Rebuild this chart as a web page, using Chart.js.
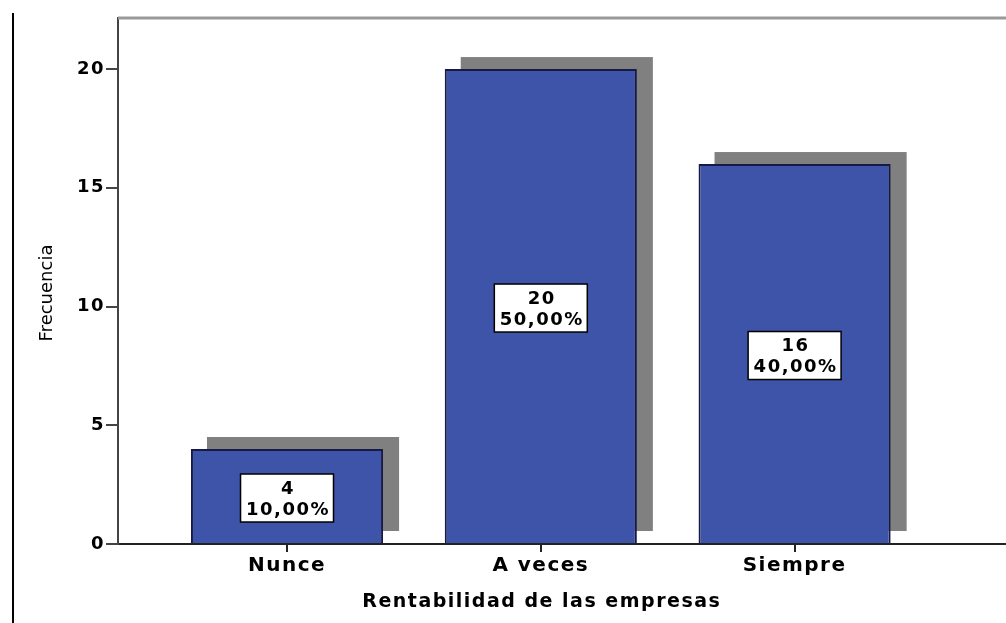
<!DOCTYPE html>
<html>
<head>
<meta charset="utf-8">
<script src="https://cdn.jsdelivr.net/npm/chart.js@4.4.1/dist/chart.umd.min.js"></script>
<style>
  html, body { margin: 0; padding: 0; background: #fff; }
  #wrap { position: relative; width: 1006px; height: 623px; }
  #frame { position: absolute; left: 12px; top: 13px; width: 2px; bottom: 0; background: #000; }
</style>
</head>
<body>
<div id="wrap">
  <div id="frame"></div>
  <canvas id="chart" width="1006" height="623"></canvas>
</div>
<script>
// Rentabilidad de las empresas - frecuencias por categoria
const categories = ['Nunce', 'A veces', 'Siempre'];
const frequencies = [4, 20, 16];
const percentLabels = ['10,00%', '50,00%', '40,00%'];
const yTicks = [0, 5, 10, 15, 20];
const xTitle = 'Rentabilidad de las empresas';
const yTitle = 'Frecuencia';

const FONT = "'DejaVu Sans', sans-serif";
const SPACING = '1.5px';

// texto espaciado como en el grafico de SPSS
const spacingPlugin = {
    id: 'spacing',
    beforeLayout(chart) { chart.ctx.letterSpacing = SPACING; },
    beforeDraw(chart) { chart.ctx.letterSpacing = SPACING; }
};

// sombra gris desplazada detras de cada barra
const shadowPlugin = {
    id: 'barShadow',
    beforeDatasetsDraw(chart) {
        const ctx = chart.ctx;
        ctx.save();
        ctx.fillStyle = '#808080';
        chart.getDatasetMeta(0).data.forEach(bar => {
            const w = bar.width;
            ctx.fillRect(bar.x - w / 2 + 16, bar.y - 12, w, bar.base - bar.y);
        });
        ctx.restore();
    }
};

// cajas blancas con frecuencia y porcentaje
const boxLabelPlugin = {
    id: 'boxLabels',
    afterDatasetsDraw(chart) {
        const ctx = chart.ctx;
        ctx.save();
        ctx.font = 'bold 18px ' + FONT;
        ctx.textAlign = 'center';
        ctx.textBaseline = 'middle';
        chart.getDatasetMeta(0).data.forEach((bar, i) => {
            const lines = [String(frequencies[i]), percentLabels[i]];
            const w = Math.max(...lines.map(t => ctx.measureText(t).width)) + 9;
            const h = 48;
            const cx = bar.x;
            const cy = (bar.y + bar.base) / 2 + 2;
            ctx.fillStyle = '#fff';
            ctx.fillRect(cx - w / 2, cy - h / 2, w, h);
            ctx.lineWidth = 1.5;
            ctx.strokeStyle = '#000';
            ctx.strokeRect(cx - w / 2, cy - h / 2, w, h);
            ctx.fillStyle = '#000';
            ctx.fillText(lines[0], cx + 1, cy - 9);
            ctx.fillText(lines[1], cx + 1, cy + 12);
        });
        ctx.restore();
    }
};

// titulos de ejes y linea superior del marco
const axisTitlePlugin = {
    id: 'axisTitles',
    afterDraw(chart) {
        const { ctx, chartArea, scales: { x } } = chart;
        ctx.save();
        ctx.strokeStyle = '#999';
        ctx.lineWidth = 3;
        ctx.beginPath();
        ctx.moveTo(chartArea.left, chartArea.top);
        ctx.lineTo(chartArea.right, chartArea.top);
        ctx.stroke();

        ctx.fillStyle = '#000';
        ctx.textAlign = 'center';
        ctx.textBaseline = 'middle';
        ctx.font = 'bold 19px ' + FONT;
        const midX = (x.getPixelForValue(0) + x.getPixelForValue(categories.length - 1)) / 2;
        ctx.fillText(xTitle, midX + 1, chartArea.bottom + 58);

        ctx.letterSpacing = '0px';
        ctx.font = '18px ' + FONT;
        ctx.translate(47, (chartArea.top + chartArea.bottom) / 2 + 12);
        ctx.rotate(-Math.PI / 2);
        ctx.fillText(yTitle, 0, 0);
        ctx.restore();
    }
};

const ctx = document.getElementById('chart').getContext('2d');

new Chart(ctx, {
    type: 'bar',
    data: {
        datasets: [{
            data: frequencies.map((v, i) => ({ x: i, y: v })),
            backgroundColor: '#3e54a8',
            borderColor: '#161a45',
            borderWidth: 2,
            barPercentage: 0.757,
            categoryPercentage: 1.0
        }]
    },
    options: {
        responsive: false,
        animation: false,
        layout: { padding: { top: 18, left: 0, right: 0, bottom: 0 } },
        plugins: {
            legend: { display: false },
            tooltip: { enabled: false }
        },
        scales: {
            x: {
                type: 'linear',
                min: -0.666,
                max: 2.833,
                offset: false,
                afterBuildTicks: s => { s.ticks = categories.map((_, i) => ({ value: i })); },
                afterFit: s => { s.height = 79; },
                grid: { offset: false, drawOnChartArea: false, tickLength: 8, color: '#222', lineWidth: 2 },
                border: { color: '#222', width: 2 },
                ticks: {
                    callback: v => categories[v],
                    font: { family: FONT, size: 20, weight: 'bold' },
                    color: '#000',
                    padding: 2,
                    maxRotation: 0,
                    autoSkip: false
                }
            },
            y: {
                min: 0,
                max: 22.15,
                afterBuildTicks: s => { s.ticks = yTicks.map(v => ({ value: v })); },
                afterFit: s => { s.width = 118; },
                grid: { drawOnChartArea: false, tickLength: 12, color: '#444', lineWidth: 2 },
                border: { color: '#444', width: 2 },
                ticks: {
                    font: { family: FONT, size: 18, weight: 'bold' },
                    color: '#000',
                    padding: 1
                }
            }
        }
    },
    plugins: [spacingPlugin, shadowPlugin, boxLabelPlugin, axisTitlePlugin]
});
</script>
</body>
</html>
